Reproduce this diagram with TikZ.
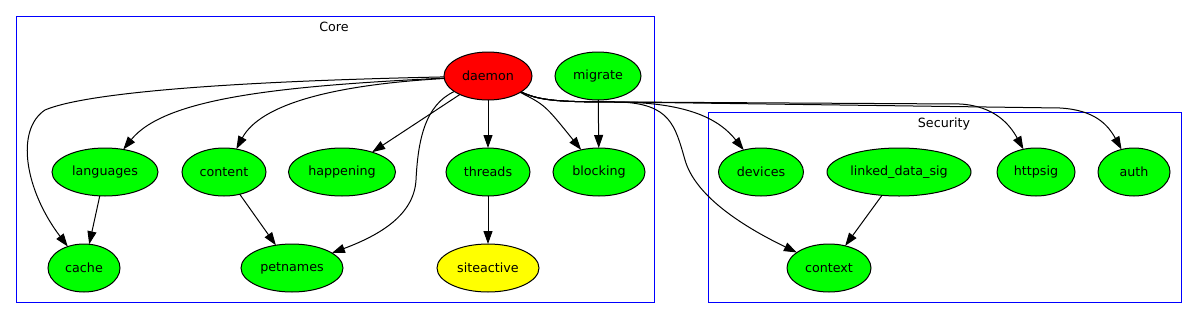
\documentclass[tikz,border=0pt]{standalone}
\usepackage{fontspec}
\setmainfont{DejaVu Sans}
\usetikzlibrary{shapes.geometric,arrows.meta}
\begin{document}
\begin{tikzpicture}[x=1pt,y=-1pt,line width=1pt,
  every node/.style={font=\fontsize{12.7}{15}\selectfont, inner sep=0pt, outer sep=0pt},
  mod/.style={ellipse, draw, fill={rgb,255:red,0;green,255;blue,0}, minimum height=48pt},
  dep/.style={-{Triangle[length=13pt,width=9pt]}},
  cluster/.style={draw={rgb,255:red,0;green,0;blue,255}}]
\useasboundingbox (0,0) rectangle (1197,319);
% clusters
\draw[cluster] (16,16) rectangle (654,302);
\draw[cluster] (708,112) rectangle (1181,302);
\node (corelabel) at (334,27) {Core};
\node (seclabel) at (944,124) {Security};
% Core
\node[mod, minimum width=88pt, fill={rgb,255:red,255;green,0;blue,0}] (daemon) at (488,76) {daemon};
\node[mod, minimum width=86pt] (migrate) at (598,76) {migrate};
\node[mod, minimum width=106pt] (languages) at (105,172) {languages};
\node[mod, minimum width=84pt] (content) at (224,172) {content};
\node[mod, minimum width=107pt] (happening) at (342,172) {happening};
\node[mod, minimum width=84pt] (threads) at (488,172) {threads};
\node[mod, minimum width=92pt] (blocking) at (599,172) {blocking};
\node[mod, minimum width=72pt] (cache) at (84,268) {cache};
\node[mod, minimum width=102pt] (petnames) at (292,268) {petnames};
\node[mod, minimum width=102pt, fill={rgb,255:red,255;green,255;blue,0}] (siteactive) at (488,268) {siteactive};
% Security
\node[mod, minimum width=85pt] (devices) at (761,172) {devices};
\node[mod, minimum width=144pt] (linkeddatasig) at (899,172) {linked\_data\_sig};
\node[mod, minimum width=78pt] (httpsig) at (1036,172) {httpsig};
\node[mod, minimum width=72pt] (auth) at (1134,172) {auth};
\node[mod, minimum width=84pt] (context) at (829,268) {context};
% edges inside Core
\draw[dep] (daemon) .. controls (200,82) and (80,95) .. (45,110) .. controls (15,130) and (25,190) .. (cache);
\draw[dep] (daemon) .. controls (280,86) and (165,98) .. (languages);
\draw[dep] (daemon) .. controls (330,85) and (260,105) .. (content);
\draw[dep] (daemon) -- (happening);
\draw[dep] (daemon) .. controls (425,105) and (418,140) .. (416,180) .. controls (414,215) and (380,235) .. (petnames);
\draw[dep] (daemon) -- (threads);
\draw[dep] (daemon) .. controls (545,105) .. (blocking);
\draw[dep] (migrate) -- (blocking);
\draw[dep] (languages) -- (cache);
\draw[dep] (content) -- (petnames);
\draw[dep] (threads) -- (siteactive);
% edges into Security
\draw[dep] (daemon) .. controls (540,101) and (560,102) .. (620,102) .. controls (690,103) and (720,120) .. (devices);
\draw[dep] (daemon) .. controls (540,101) and (560,102) .. (620,102) .. controls (670,104) and (675,125) .. (685,160) .. controls (695,195) and (740,225) .. (context);
\draw[dep] (daemon) .. controls (540,101) and (560,102) .. (620,102) -- (960,104) .. controls (995,106) and (1010,125) .. (httpsig);
\draw[dep] (daemon) .. controls (540,101) and (560,102) .. (620,102) -- (1060,108) .. controls (1095,110) and (1108,125) .. (auth);
\draw[dep] (linkeddatasig) -- (context);
\end{tikzpicture}
\end{document}
